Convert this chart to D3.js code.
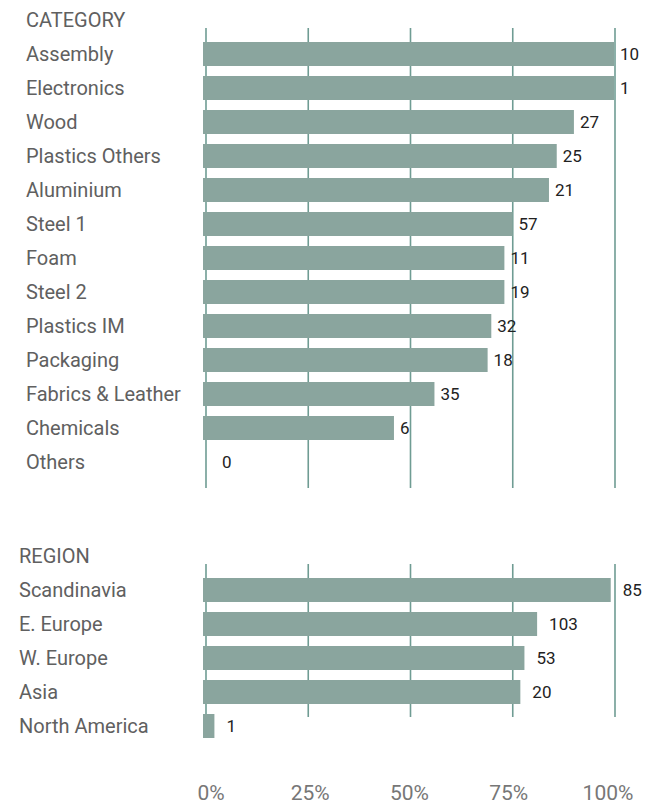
<!DOCTYPE html>
<html>

<head>
  <title>Category / Region share</title>
  <script src="https://cdn.jsdelivr.net/npm/d3@7"></script>
</head>
<style type="text/css">
  body {
    margin: 0;
    background-color: #ffffff;
  }

  .row_label,
  .head_label {
    font-family: Roboto, sans-serif;
    font-size: 20px;
    fill: #606060;
  }

  .value_label {
    font-family: Roboto, sans-serif;
    font-size: 17px;
    fill: #222222;
  }

  .tick_label {
    font-family: Roboto, sans-serif;
    font-size: 21px;
    fill: #777777;
  }
</style>

<body>
  <svg width="648" height="805" id="mainsvg"></svg>
  <script>

    const categories = ["Assembly", "Electronics", "Wood", "Plastics Others", "Aluminium", "Steel 1", "Foam",
      "Steel 2", "Plastics IM", "Packaging", "Fabrics & Leather", "Chemicals", "Others"];
    const categoryShare = [100, 100, 90.2, 86.0, 84.1, 75.2, 73.2, 73.2, 70.0, 69.1, 56.1, 46.2, 0];
    const categoryCount = [10, 1, 27, 25, 21, 57, 11, 19, 32, 18, 35, 6, 0];

    const regions = ["Scandinavia", "E. Europe", "W. Europe", "Asia", "North America"];
    const regionShare = [99.2, 81.2, 78.1, 77.1, 2.3];
    const regionCount = [85, 103, 53, 20, 1];

    const tickValues = [0, 25, 50, 75, 100];
    const tickLabels = ["0%", "25%", "50%", "75%", "100%"];

    const barColor = "#8aa59e";
    const gridColor = "#6f9c93";

    const svg = d3.select('#mainsvg');
    const height = +svg.attr('height');

    const xScale = d3.scaleLinear()
      .domain([0, 100])
      .range([205, 614]);
    // tick texts sit a little inside the grid lines
    const tickScale = xScale.copy().range([211, 608]);

    // one block of bars with its own header and grid
    const drawPanel = function (opts) {
      const g = svg.append("g");
      const yScale = d3.scaleBand()
        .domain(opts.names)
        .range([opts.top, opts.top + opts.names.length * 34])
        .paddingInner(10 / 34)
        .paddingOuter(5 / 34);

      g.append("text")
        .attr("class", "head_label")
        .attr("x", opts.labelX)
        .attr("y", opts.top - 17)
        .attr("dy", "0.35em")
        .text(opts.title);

      g.selectAll(".grid")
        .data(tickValues)
        .enter()
        .append("line")
        .attr("class", "grid")
        .attr("x1", d => xScale(d) + 1)
        .attr("x2", d => xScale(d) + 1)
        .attr("y1", opts.top - 9)
        .attr("y2", opts.gridBottom)
        .style("stroke", gridColor)
        .style("stroke-width", 1.6);

      const rows = opts.names.map((n, i) => ({ name: n, share: opts.share[i], count: opts.count[i] }));

      g.selectAll("rect")
        .data(rows.filter(d => d.share > 0))
        .enter()
        .append("rect")
        .attr("x", xScale(0) - 2)
        .attr("y", d => yScale(d.name))
        .attr("width", d => xScale(d.share) - xScale(0) + 2)
        .attr("height", yScale.bandwidth())
        .attr("fill", barColor);

      g.selectAll(".row_label")
        .data(rows)
        .enter()
        .append("text")
        .attr("class", "row_label")
        .attr("x", opts.labelX)
        .attr("y", d => yScale(d.name) + yScale.bandwidth() / 2)
        .attr("dy", "0.35em")
        .text(d => d.name);

      g.selectAll(".value_label")
        .data(rows)
        .enter()
        .append("text")
        .attr("class", "value_label")
        .attr("x", d => xScale(d.share) + (d.share > 0 ? opts.gap : 17))
        .attr("y", d => yScale(d.name) + yScale.bandwidth() / 2)
        .attr("dy", "0.35em")
        .text(d => d.count);
    }

    drawPanel({
      title: "CATEGORY", names: categories, share: categoryShare, count: categoryCount,
      top: 37, labelX: 26, gap: 6, gridBottom: 488
    });
    drawPanel({
      title: "REGION", names: regions, share: regionShare, count: regionCount,
      top: 573, labelX: 19, gap: 12, gridBottom: 717
    });

    const axis = svg.append("g");
    axis.selectAll("text")
      .data(tickValues)
      .enter()
      .append("text")
      .attr("class", "tick_label")
      .attr("x", d => tickScale(d))
      .attr("y", height - 12)
      .attr("dy", "0.35em")
      .attr("text-anchor", "middle")
      .text((d, i) => tickLabels[i]);
  </script>
</body>

</html>
